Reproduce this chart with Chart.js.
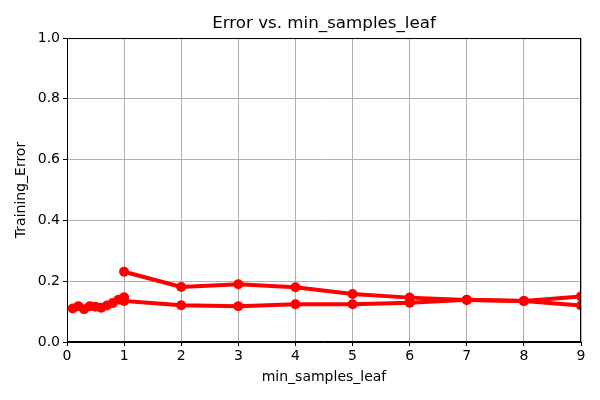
<!DOCTYPE html>
<html>
<head>
<meta charset="utf-8">
<script src="https://cdn.jsdelivr.net/npm/chart.js@4"></script>
<style>
    html, body { margin: 0; padding: 0; background: #fff; }
    #wrap { width: 600px; height: 400px; }
</style>
</head>
<body>
<div id="wrap"><canvas id="chart" width="600" height="400"></canvas></div>
<script>
// Lower series: fractional leaf sizes then integer ones
const leafLowX = [0.1, 0.2, 0.3, 0.4, 0.5, 0.6, 0.7, 0.8, 0.9, 1.0, 1, 2, 3, 4, 5, 6, 7, 8, 9];
const errorLow = [0.11, 0.118, 0.108, 0.118, 0.116, 0.113, 0.12, 0.128, 0.139, 0.147, 0.135, 0.121, 0.118, 0.124, 0.124, 0.129, 0.139, 0.135, 0.15];

// Upper series: integer leaf sizes
const leafHighX = [1, 2, 3, 4, 5, 6, 7, 8, 9];
const errorHigh = [0.231, 0.181, 0.19, 0.18, 0.158, 0.146, 0.138, 0.135, 0.12];

const xTicks = [0, 1, 2, 3, 4, 5, 6, 7, 8, 9];
const yTicks = [0.0, 0.2, 0.4, 0.6, 0.8, 1.0];

const toPoints = (xs, ys) => xs.map((x, i) => ({ x: x, y: ys[i] }));

// box around the plot area (top and right spines)
const frame = {
    id: 'frame',
    afterDatasetsDraw(chart) {
        const a = chart.chartArea;
        const ctx = chart.ctx;
        ctx.save();
        ctx.strokeStyle = '#000';
        ctx.lineWidth = 1;
        ctx.strokeRect(a.left + 0.5, a.top + 0.5, a.right - a.left - 1, a.bottom - a.top - 1);
        ctx.restore();
    }
};

const lineStyle = {
    borderColor: '#ff0000',
    backgroundColor: '#ff0000',
    borderWidth: 4,
    pointRadius: 5,
    pointBorderWidth: 0,
    pointHoverRadius: 5,
    tension: 0,
    fill: false,
    clip: 0
};

Chart.defaults.font.family = 'DejaVu Sans';
Chart.defaults.color = '#000';

new Chart(document.getElementById('chart'), {
    type: 'line',
    data: {
        datasets: [
            Object.assign({ label: 'low', data: toPoints(leafLowX, errorLow) }, lineStyle),
            Object.assign({ label: 'high', data: toPoints(leafHighX, errorHigh) }, lineStyle)
        ]
    },
    options: {
        responsive: false,
        animation: false,
        layout: { padding: { left: 0, right: 19, top: 0, bottom: 0 } },
        plugins: {
            legend: { display: false },
            tooltip: { enabled: false },
            title: {
                display: true,
                fullSize: false,
                text: 'Error vs. min_samples_leaf',
                font: { size: 16.7, weight: 'normal' },
                color: '#000',
                padding: { top: 14, bottom: 4 }
            }
        },
        scales: {
            x: {
                type: 'linear',
                min: 0,
                max: 9,
                afterFit(scale) { scale.height = 58; },
                afterBuildTicks(scale) { scale.ticks = xTicks.map(v => ({ value: v })); },
                ticks: { font: { size: 14 }, padding: 2, maxRotation: 0 },
                grid: { color: '#b0b0b0', tickColor: '#000', tickLength: 4, lineWidth: 1 },
                border: { color: '#000', width: 1 },
                title: { display: true, text: 'min_samples_leaf', font: { size: 14 }, padding: { top: 2, bottom: 14 } }
            },
            y: {
                min: 0,
                max: 1,
                afterFit(scale) { scale.width = 67; },
                afterBuildTicks(scale) { scale.ticks = yTicks.map(v => ({ value: v })); },
                ticks: { font: { size: 14 }, padding: 3, callback: v => v.toFixed(1) },
                grid: { color: '#b0b0b0', tickColor: '#000', tickLength: 4, lineWidth: 1 },
                border: { color: '#000', width: 1 },
                title: { display: true, text: 'Training_Error', font: { size: 14 }, padding: { top: 13, bottom: 4 } }
            }
        }
    },
    plugins: [frame]
});
</script>
</body>
</html>
